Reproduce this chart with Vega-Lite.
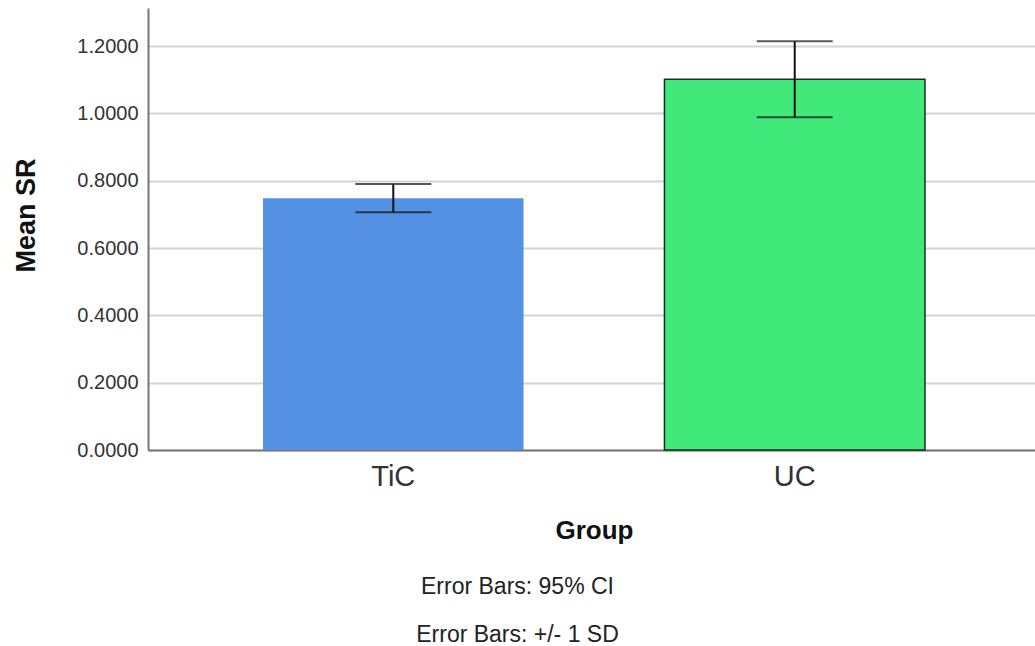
{
  "$schema": "https://vega.github.io/schema/vega-lite/v6.json",
  "width": 887,
  "height": 442,
  "autosize": {"type": "none"},
  "padding": {"left": 148, "top": 8, "right": 0, "bottom": 196},
  "background": "white",
  "config": {"view": {"stroke": null}, "font": "Liberation Sans"},
  "title": {
    "text": ["Error Bars: 95% CI", "Error Bars: +/- 1 SD"],
    "orient": "bottom",
    "anchor": "middle",
    "fontSize": 23,
    "fontWeight": "normal",
    "color": "#222",
    "lineHeight": 48,
    "offset": 33,
    "dx": -74
  },
  "data": {
    "values": [
      {"group": "TiC", "mean": 0.748, "lower": 0.7064, "upper": 0.7905},
      {"group": "UC", "mean": 1.1016, "lower": 0.9887, "upper": 1.2145}
    ]
  },
  "layer": [
    {
      "mark": {"type": "bar", "strokeWidth": 1.5},
      "encoding": {
        "x": {
          "field": "group",
          "type": "nominal",
          "scale": {"paddingInner": 0.351, "paddingOuter": 0.2865, "range": [0, 892]},
          "axis": {
            "labelAngle": 0,
            "labelFontSize": 29,
            "labelColor": "#333",
            "labelPadding": 12,
            "domainColor": "#777",
            "domainWidth": 2,
            "ticks": false,
            "title": "Group",
            "titleFontSize": 26,
            "titleFontWeight": "bold",
            "titleColor": "#111",
            "titlePadding": 26
          }
        },
        "y": {
          "field": "mean",
          "type": "quantitative",
          "scale": {"domain": [0, 1.3135], "nice": false},
          "axis": {
            "values": [0, 0.2, 0.4, 0.6, 0.8, 1.0, 1.2],
            "format": ".4f",
            "grid": true,
            "gridColor": "#d3d3d3",
            "gridWidth": 2,
            "domainColor": "#777",
            "domainWidth": 2,
            "ticks": false,
            "labelFontSize": 20,
            "labelColor": "#333",
            "labelPadding": 10,
            "title": "Mean SR",
            "titleFontSize": 27,
            "titleFontWeight": "bold",
            "titleColor": "#111",
            "titlePadding": 36,
            "titleY": 207
          }
        },
        "color": {
          "field": "group",
          "type": "nominal",
          "scale": {"domain": ["TiC", "UC"], "range": ["#5591E2", "#41E97A"]},
          "legend": null
        },
        "stroke": {
          "condition": {"test": "datum.group === 'UC'", "value": "#1c2e22"},
          "value": null
        }
      }
    },
    {
      "mark": {"type": "rule", "color": "#111", "strokeWidth": 2},
      "encoding": {
        "x": {"field": "group", "type": "nominal"},
        "y": {"field": "lower", "type": "quantitative"},
        "y2": {"field": "upper"}
      }
    },
    {
      "mark": {"type": "tick", "color": "#111", "thickness": 2, "size": 76},
      "encoding": {
        "x": {"field": "group", "type": "nominal"},
        "y": {"field": "lower", "type": "quantitative"}
      }
    },
    {
      "mark": {"type": "tick", "color": "#111", "thickness": 2, "size": 76},
      "encoding": {
        "x": {"field": "group", "type": "nominal"},
        "y": {"field": "upper", "type": "quantitative"}
      }
    }
  ]
}
